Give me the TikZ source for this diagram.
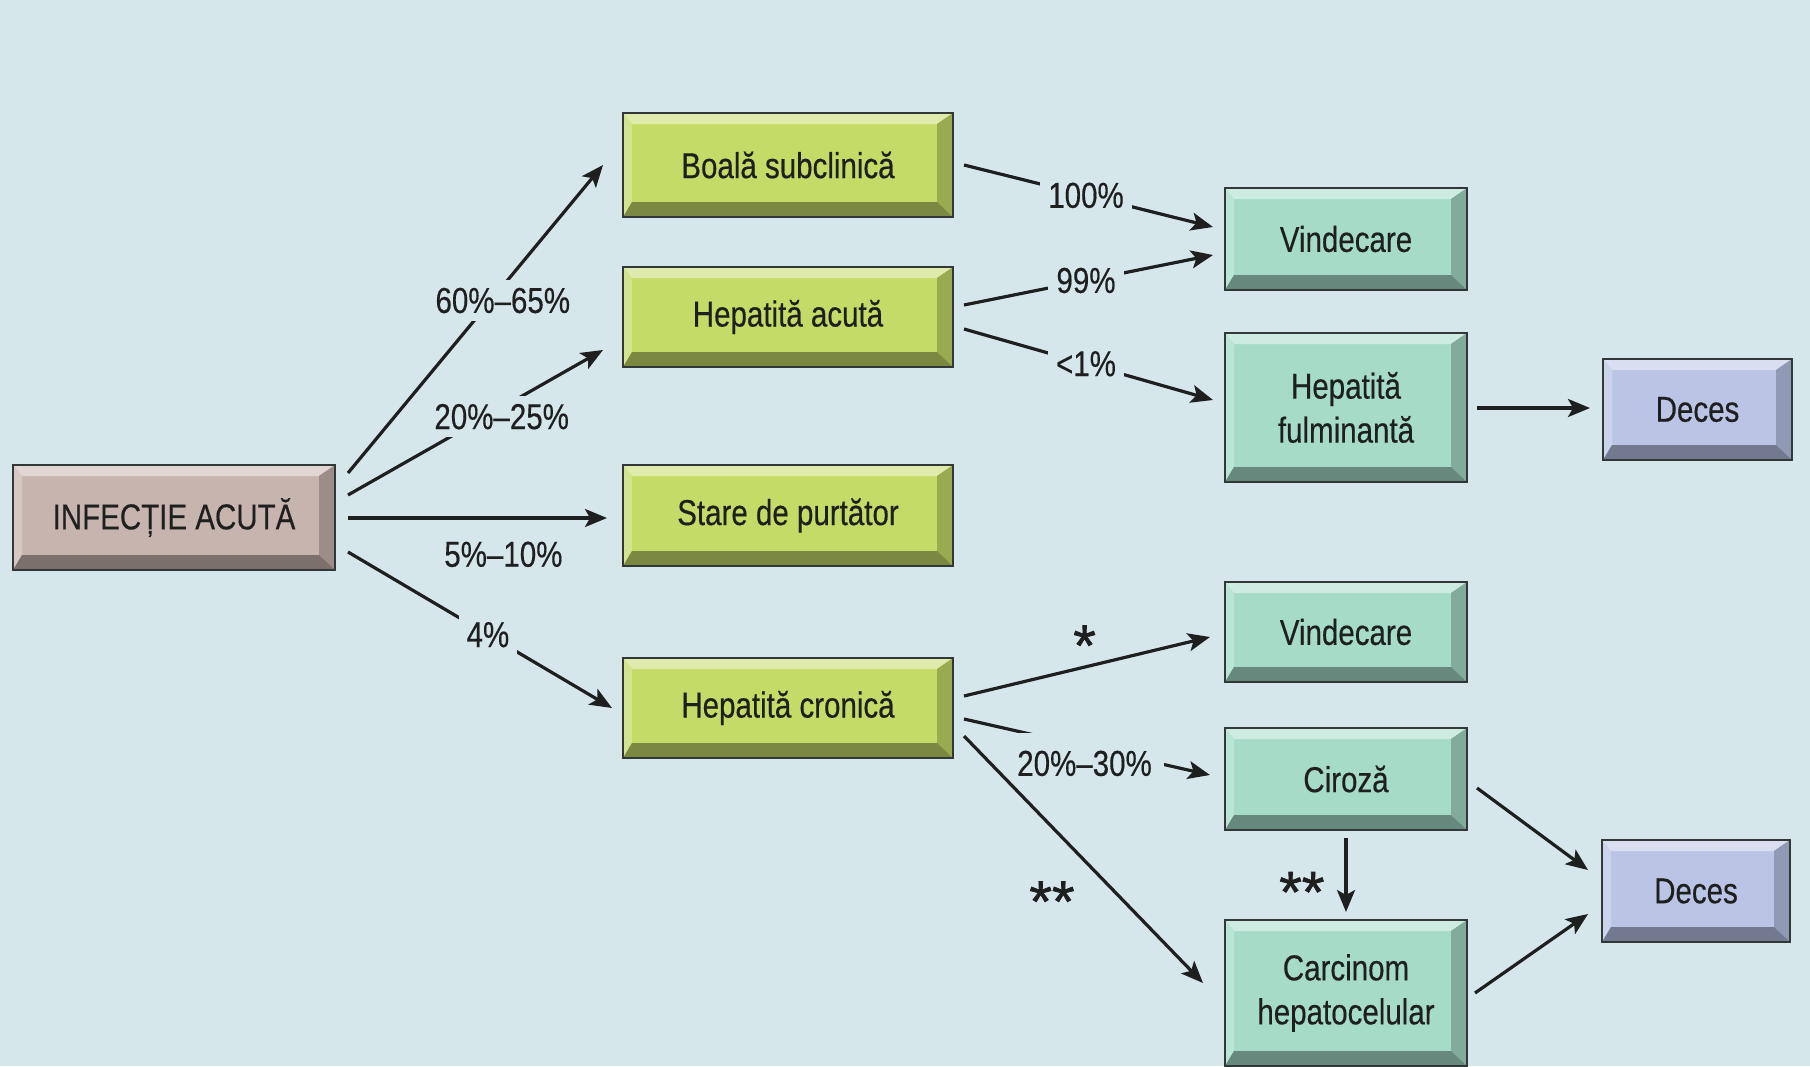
\documentclass[tikz,border=0pt]{standalone}
\usepackage{fontspec}
\setmainfont{Liberation Sans}[FakeStretch=0.82,FakeBold=0.35]
\newfontfamily\starfont{Liberation Sans}[FakeBold=1.2]
\usetikzlibrary{arrows.meta}

\definecolor{bgc}{RGB}{214,231,236}
\definecolor{brn}{RGB}{200,180,174}
\definecolor{olv}{RGB}{196,219,104}
\definecolor{tea}{RGB}{166,219,200}
\definecolor{lav}{RGB}{186,197,230}
\definecolor{ink}{RGB}{30,32,32}
\definecolor{edge}{RGB}{50,55,55}

\newcommand\ppb{path picture bounding box}

\tikzset{
  bevel/.style={draw=edge, line width=1pt, fill=#1, text=ink, align=center,
    inner sep=0pt, outer sep=0pt, font=\fontsize{18}{22}\selectfont,
    path picture={
      % top and left faces
      \fill[#1!55!white] (\ppb.north west) -- (\ppb.north east)
        -- ([shift={(-8pt,-5.5pt)}]\ppb.north east) -- ([shift={(4.5pt,-5.5pt)}]\ppb.north west) -- cycle;
      \fill[#1!75!white] (\ppb.north west) -- ([shift={(4.5pt,-5.5pt)}]\ppb.north west)
        -- ([shift={(4.5pt,7.5pt)}]\ppb.south west) -- (\ppb.south west) -- cycle;
      % right and bottom faces
      \fill[#1!78!black] (\ppb.north east) -- (\ppb.south east)
        -- ([shift={(-8pt,7.5pt)}]\ppb.south east) -- ([shift={(-8pt,-5.5pt)}]\ppb.north east) -- cycle;
      \fill[#1!62!black] (\ppb.south west) -- (\ppb.south east)
        -- ([shift={(-8pt,7.5pt)}]\ppb.south east) -- ([shift={(4.5pt,7.5pt)}]\ppb.south west) -- cycle;
    }},
  link/.style={draw=ink, line width=1.6pt, -{Stealth[length=11pt,width=9pt,inset=2.5pt]}},
  pct/.style={fill=bgc, text=ink, inner sep=4pt, font=\fontsize{18}{22}\selectfont},
  star/.style={text=ink, inner sep=0pt, font=\starfont\fontsize{29}{29}\selectfont},
}

\begin{document}
\begin{tikzpicture}[x=0.5pt,y=-0.5pt]
    \path[use as bounding box, fill=bgc] (0,0) rectangle (1810,1066);
    %
    \node[bevel=brn, minimum width=161pt, minimum height=52.5pt] (inf) at (174,517.5) {INFECȚIE ACUTĂ};
    %
    \node[bevel=olv, minimum width=165pt, minimum height=52pt]   (boala)   at (788,165)   {Boală subclinică};
    \node[bevel=olv, minimum width=165pt, minimum height=50pt]   (acuta)   at (788,317)   {Hepatită acută};
    \node[bevel=olv, minimum width=165pt, minimum height=50.5pt] (stare)   at (788,515.5) {Stare de purtător};
    \node[bevel=olv, minimum width=165pt, minimum height=50pt]   (cronica) at (788,708)   {Hepatită cronică};
    %
    \node[bevel=tea, minimum width=121pt, minimum height=51pt]   (vind1)  at (1346,239)   {Vindecare};
    \node[bevel=tea, minimum width=121pt, minimum height=74.5pt] (fulm)   at (1346,407.5) {Hepatită\\fulminantă};
    \node[bevel=tea, minimum width=121pt, minimum height=50pt]   (vind2)  at (1346,632)   {Vindecare};
    \node[bevel=tea, minimum width=121pt, minimum height=51pt]   (ciroza) at (1346,779)   {Ciroză};
    \node[bevel=tea, minimum width=121pt, minimum height=73pt]   (carc)   at (1346,993)   {Carcinom\\hepatocelular};
    %
    \node[bevel=lav, minimum width=94.5pt, minimum height=50.5pt] (deces1) at (1697.5,409.5) {Deces};
    \node[bevel=lav, minimum width=94pt, minimum height=51pt]     (deces2) at (1696,891)     {Deces};
    %
    \draw[link] ([shift={(13,-44.5)}]inf.east) -- node[pct, pos=0.56, xshift=6pt] {60\%–65\%} ([shift={(-20,0)}]boala.west);
    \draw[link] ([shift={(13,-22.5)}]inf.east) -- node[pct, pos=0.54, xshift=8pt] {20\%–25\%} ([shift={(-20,33)}]acuta.west);
    \draw[link] ([shift={(13,0.5)}]inf.east) -- node[pct, pos=0.6, below=7pt] {5\%–10\%} ([shift={(-16,2.5)}]stare.west);
    \draw[link] ([shift={(13,34.5)}]inf.east) -- node[pct, pos=0.53] {4\%} ([shift={(-11,0)}]cronica.west);
    %
    \draw[link] ([shift={(11,0)}]boala.east) -- node[pct, pos=0.49] {100\%} ([shift={(-12,-12)}]vind1.west);
    \draw[link] ([shift={(11,-12)}]acuta.east) -- node[pct, pos=0.49] {99\%} ([shift={(-12,16)}]vind1.west);
    \draw[link] ([shift={(11,12)}]acuta.east) -- node[pct, pos=0.49] {<1\%} ([shift={(-12,-7.5)}]fulm.west);
    \draw[link] ([shift={(10,0.5)}]fulm.east) -- ([shift={(-13,-1.5)}]deces1.west);
    %
    \draw[link] ([shift={(11,-12)}]cronica.east) -- node[star, pos=0.49, above=0pt] {*} ([shift={(-15,5)}]vind2.west);
    \draw[link] ([shift={(11,11)}]cronica.east) -- node[pct, pos=0.49, yshift=-8.5pt, inner ysep=9pt, inner xsep=6pt] {20\%–30\%} ([shift={(-15,-4)}]ciroza.west);
    \draw[link] ([shift={(11,28)}]cronica.east) -- node[star, pos=0.67, left=24pt] {**} ([shift={(-22,-10)}]carc.west);
    \draw[link] ([shift={(0,8)}]ciroza.south) -- node[star, pos=0.73, left=10pt] {**} ([shift={(0,-8)}]carc.north);
    %
    \draw[link] ([shift={(10,9)}]ciroza.east) -- ([shift={(-14,-21)}]deces2.west);
    \draw[link] ([shift={(8,0)}]carc.east) -- ([shift={(-14,23)}]deces2.west);
    %
\end{tikzpicture}
\end{document}
